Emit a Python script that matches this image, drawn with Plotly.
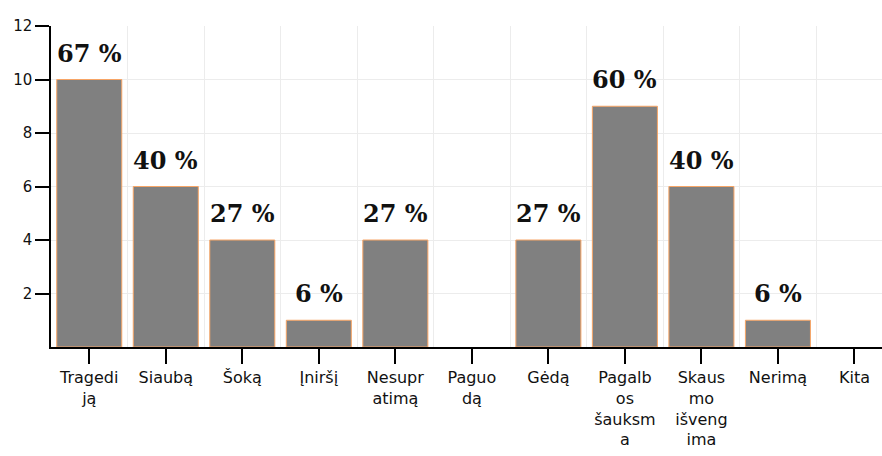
import plotly.graph_objects as go

categories = ["Tragediją", "Siaubą", "Šoką", "Įniršį", "Nesupratimą", "Paguodą",
              "Gėdą", "Pagalbos šauksmą", "Skausmo išvengima", "Nerimą", "Kita"]
tick_labels = ["Tragedi<br>ją", "Siaubą", "Šoką", "Įniršį", "Nesupr<br>atimą", "Paguo<br>dą",
               "Gėdą", "Pagalb<br>os<br>šauksm<br>a", "Skaus<br>mo<br>išveng<br>ima", "Nerimą", "Kita"]
counts = [10, 6, 4, 1, 4, 0, 4, 9, 6, 1, 0]
percents = ["67 %", "40 %", "27 %", "6 %", "27 %", "", "27 %", "60 %", "40 %", "6 %", ""]

x_pos = list(range(len(categories)))

fig = go.Figure()
fig.add_trace(go.Bar(
    x=x_pos, y=counts, width=0.85,
    marker=dict(color="#808080",
                line=dict(color="#f7a566", width=[1 if c else 0 for c in counts])),
    hovertext=categories, hoverinfo="text+y",
))

# percentage labels above bars
for xi, c, p in zip(x_pos, counts, percents):
    if p:
        fig.add_annotation(x=xi, y=c, text=f"<b>{p}</b>", showarrow=False,
                           yanchor="bottom", yshift=10,
                           font=dict(family="DejaVu Serif", size=24, color="#111"))

fig.update_xaxes(
    range=[-0.5, 10.36], tickvals=x_pos, ticktext=tick_labels,
    showgrid=False, zeroline=False, automargin=False,
    showline=True, linecolor="#000", linewidth=1.5,
    ticks="outside", ticklen=15, tickcolor="#000", tickwidth=1.5,
    tickfont=dict(family="DejaVu Sans", size=16, color="#111"),
    minor=dict(tickvals=[i + 0.5 for i in range(-1, 11)], showgrid=True,
               gridcolor="#ececec", gridwidth=1, ticks=""),
)
fig.update_yaxes(
    range=[0, 12], tickvals=[2, 4, 6, 8, 10, 12],
    showgrid=True, gridcolor="#ececec", gridwidth=1, zeroline=False, automargin=False,
    showline=True, linecolor="#000", linewidth=1.5,
    ticks="outside", ticklen=14, tickcolor="#000", tickwidth=1.5,
    tickfont=dict(family="DejaVu Sans", size=15, color="#111"),
)
fig.update_layout(
    width=882, height=456,
    margin=dict(l=51, r=0, t=26, b=109),
    plot_bgcolor="white", paper_bgcolor="white",
    showlegend=False,
)
# drop the default page margin so the figure sits at the window's corner
fig.write_html("out.html", config={"displayModeBar": False},
               post_script="document.body.style.margin='0';document.body.style.overflow='hidden';")
